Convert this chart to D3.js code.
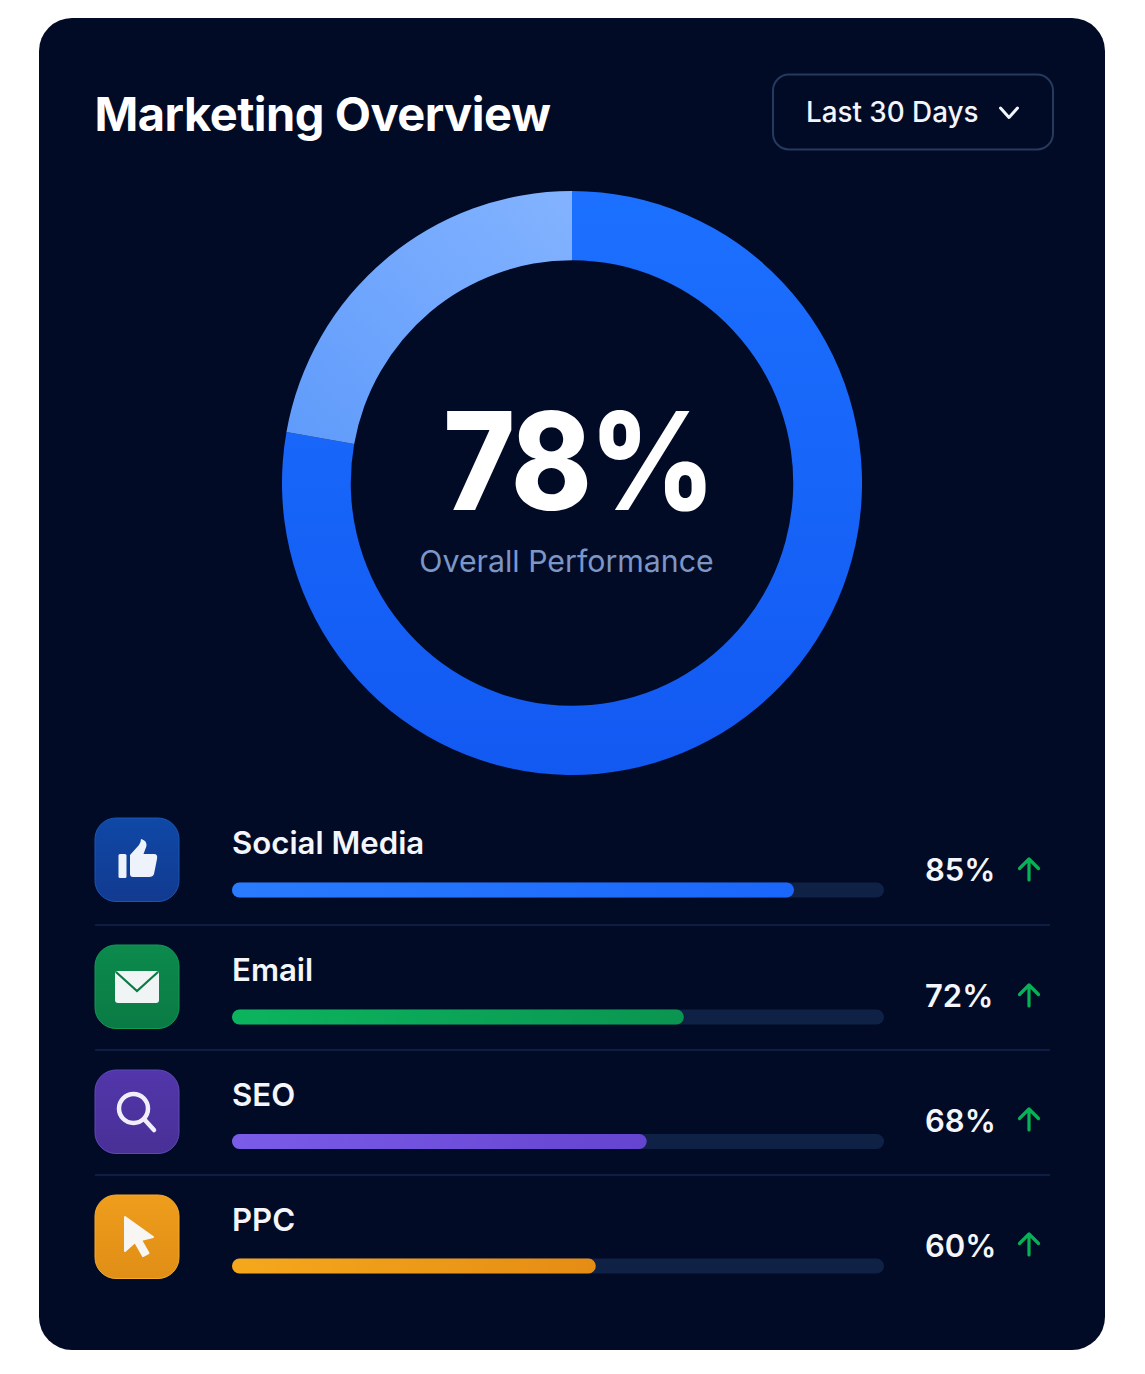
<!DOCTYPE html>
<html>
<head>
<meta charset="utf-8">
<script src="https://cdn.jsdelivr.net/npm/d3@7"></script>
<style>
html,body{margin:0;padding:0;background:#fff;}
svg{display:block;}
text{font-family:Inter,"Noto Sans",sans-serif;}
</style>
</head>
<body>
<div id="chart"></div>
<script>
const channels = ["Social Media", "Email", "SEO", "PPC"];
const labelValues = [85, 72, 68, 60];
const barValues = [86.2, 69.3, 63.6, 55.8];
const overallValue = 78;
const ringValues = [77.8, 22.2];
const overallLabel = "Overall Performance";
const chartTitle = "Marketing Overview";
const rangeLabel = "Last 30 Days";
const barColorsStart = ["#2a7bff", "#0cb45e", "#7a5ce8", "#f5a81c"];
const barColorsEnd = ["#1a66fa", "#0a9550", "#6544cf", "#e58c14"];
const iconColorsStart = ["#0f48a6", "#0c8a4c", "#5236ab", "#ee9d1c"];
const iconColorsEnd = ["#123a90", "#0a7a44", "#483096", "#e08e16"];
const iconBorders = ["#1a55b5", "#129a55", "#5f48b8", "#f5ab2a"];
const iconNames = ["thumb", "mail", "search", "cursor"];
const rowTops = [818, 945, 1070, 1195];
const barTops = [64.5, 64.5, 64, 63.5];
const pctBaselines = [63, 62, 62, 62];
const arrowTops = [40, 39, 38, 38];
const dividerOffsets = [107, 105, 105];

const W = 1145, H = 1374;
const svg = d3.select("#chart").append("svg").attr("width", W).attr("height", H);
const defs = svg.append("defs");

function linear(id, x1, y1, x2, y2, c1, c2) {
  const g = defs.append("linearGradient").attr("id", id)
    .attr("x1", x1).attr("y1", y1).attr("x2", x2).attr("y2", y2);
  g.append("stop").attr("offset", "0%").attr("stop-color", c1);
  g.append("stop").attr("offset", "100%").attr("stop-color", c2);
}
linear("ringMain", 0, 0, 0, 1, "#1c70ff", "#1259f2");
linear("ringLight", 1, 0, 0, 1, "#83b3ff", "#5f9bfb");
channels.forEach((c, i) => {
  linear("bar" + i, 0, 0, 1, 0, barColorsStart[i], barColorsEnd[i]);
  linear("icon" + i, 0, 0, 0, 1, iconColorsStart[i], iconColorsEnd[i]);
});

// Card
svg.append("rect").attr("x", 39).attr("y", 18).attr("width", 1066).attr("height", 1332)
  .attr("rx", 33).attr("fill", "#020b26");

// Header
svg.append("text").attr("x", 94.5).attr("y", 131).text(chartTitle)
  .attr("font-size", 47).attr("font-weight", 700).attr("fill", "#fff").attr("letter-spacing", -0.5);
svg.append("rect").attr("x", 773).attr("y", 74.5).attr("width", 280).attr("height", 75).attr("rx", 16)
  .attr("fill", "none").attr("stroke", "#26395f").attr("stroke-width", 2);
svg.append("text").attr("x", 806).attr("y", 122).text(rangeLabel)
  .attr("font-size", 27.8).attr("font-weight", 500).attr("fill", "#f2f5fb");
svg.append("path").attr("d", "M1000.5,108 L1009,117.5 L1017.5,108").attr("fill", "none")
  .attr("stroke", "#f2f5fb").attr("stroke-width", 3).attr("stroke-linecap", "round").attr("stroke-linejoin", "round");

// Donut
const pie = d3.pie().sort(null).value(d => d)(ringValues);
const arc = d3.arc().innerRadius(222).outerRadius(291);
const donut = svg.append("g").attr("transform", "translate(572,483)");
donut.append("g").attr("transform", "scale(0.9966,1.0034)")
  .selectAll("path").data(pie).join("path")
  .attr("d", arc)
  .attr("fill", (d, i) => i === 0 ? "url(#ringMain)" : "url(#ringLight)");
donut.append("text").attr("transform", "translate(6,27) scale(0.9,1)").attr("text-anchor", "middle")
  .text(overallValue + "%").attr("font-size", 136).attr("font-weight", 800).attr("fill", "#fff").attr("letter-spacing", -3);
donut.append("text").attr("x", -5.5).attr("y", 89).attr("text-anchor", "middle")
  .text(overallLabel).attr("font-size", 30.3).attr("font-weight", 400).attr("fill", "#7c96c6");

// Rows
const x = d3.scaleLinear().domain([0, 100]).range([0, 652]);
const rows = svg.selectAll("g.row").data(channels).join("g").attr("class", "row")
  .attr("transform", (d, i) => `translate(0,${rowTops[i]})`);

rows.append("rect").attr("x", 95).attr("y", 0).attr("width", 84).attr("height", 83.5).attr("rx", 21)
  .attr("fill", (d, i) => `url(#icon${i})`)
  .attr("stroke", (d, i) => iconBorders[i]).attr("stroke-width", 1);
rows.append("text").attr("x", 232).attr("y", 36).text(d => d)
  .attr("font-size", 31.2).attr("font-weight", 600).attr("fill", "#f4f6fb");
rows.append("rect").attr("x", 232).attr("y", (d, i) => barTops[i]).attr("width", x(100)).attr("height", 15).attr("rx", 7.5)
  .attr("fill", "#0f2145");
rows.append("rect").attr("x", 232).attr("y", (d, i) => barTops[i]).attr("width", (d, i) => x(barValues[i])).attr("height", 15).attr("rx", 7.5)
  .attr("fill", (d, i) => `url(#bar${i})`);
rows.append("text").attr("x", 925).attr("y", (d, i) => pctBaselines[i]).text((d, i) => labelValues[i] + "%")
  .attr("font-size", 31).attr("font-weight", 600).attr("fill", "#f4f6fb");
rows.append("path")
  .attr("d", (d, i) => { const t = arrowTops[i] + 1; return `M1029,${t + 21} V${t} M1019.5,${t + 9.5} L1029,${t} L1038.5,${t + 9.5}`; })
  .attr("fill", "none").attr("stroke", "#07b256").attr("stroke-width", 3.2).attr("stroke-linecap", "round").attr("stroke-linejoin", "round");
rows.filter((d, i) => i < channels.length - 1).append("line")
  .attr("x1", 95).attr("x2", 1050).attr("y1", (d, i) => dividerOffsets[i]).attr("y2", (d, i) => dividerOffsets[i])
  .attr("stroke", "#13254b").attr("stroke-width", 1.5);

// Icon glyphs
rows.each(function(d, i) {
  const g = d3.select(this).append("g").attr("transform", "translate(95,0)");
  const n = iconNames[i];
  if (n === "thumb") {
    g.append("rect").attr("x", 23.5).attr("y", 36).attr("width", 8).attr("height", 24).attr("rx", 1.5).attr("fill", "#eef2fb");
    g.append("path").attr("fill", "#eef2fb")
      .attr("d", "M35,37 L44,27 Q46,24 46,21 Q47,21 50,23 Q53,26 50,32 L48.5,36 L59,36 Q63,36 62,41 L59,56 Q58,59 54,59 L38,59 Q35,59 35,56 Z");
  } else if (n === "mail") {
    g.append("rect").attr("x", 20).attr("y", 26).attr("width", 44).attr("height", 32).attr("rx", 3).attr("fill", "#f1f4f4");
    g.append("path").attr("d", "M21,27 L42,46 L63,27").attr("fill", "none").attr("stroke", iconColorsEnd[1]).attr("stroke-width", 2.2);
  } else if (n === "search") {
    g.append("circle").attr("cx", 38.5).attr("cy", 38.5).attr("r", 14.5).attr("fill", "none").attr("stroke", "#f0eef9").attr("stroke-width", 4.5);
    g.append("line").attr("x1", 49).attr("y1", 49).attr("x2", 59).attr("y2", 60).attr("stroke", "#f0eef9").attr("stroke-width", 4.5).attr("stroke-linecap", "round");
  } else {
    g.append("path").attr("fill", "#f8f6f2").attr("stroke", "#f8f6f2").attr("stroke-width", 2).attr("stroke-linejoin", "round")
      .attr("d", "M30,22 L30,56 L40,47 L48,61 L53.5,58 L46,45 L58,42 Z");
  }
});
</script>
</body>
</html>
